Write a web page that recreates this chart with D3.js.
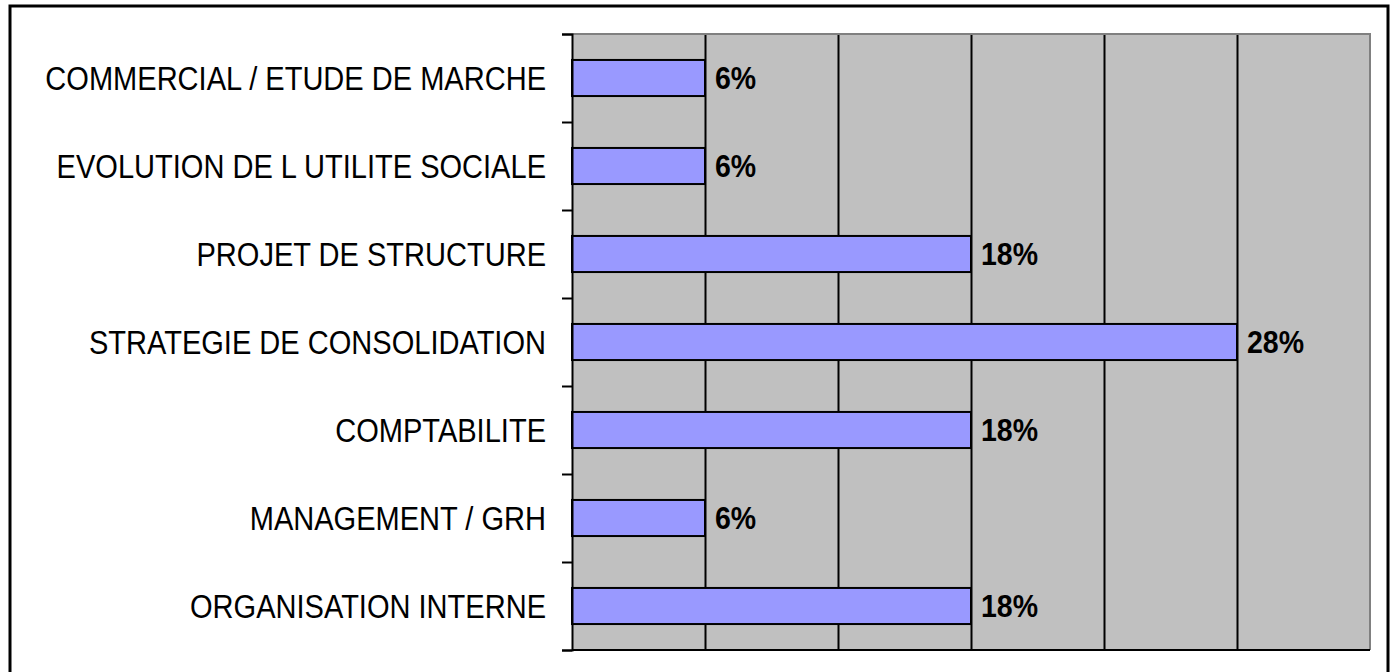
<!DOCTYPE html>
<html>
<head>
<meta charset="utf-8">
<script src="https://cdn.jsdelivr.net/npm/d3@7"></script>
<style>
  body { margin: 0; background: #fff; }
  svg { display: block; }
</style>
</head>
<body>
<svg id="chart"></svg>
<script>
// categories top to bottom
const categories = [
  "COMMERCIAL / ETUDE DE MARCHE",
  "EVOLUTION DE L UTILITE SOCIALE",
  "PROJET DE STRUCTURE",
  "STRATEGIE DE CONSOLIDATION",
  "COMPTABILITE",
  "MANAGEMENT / GRH",
  "ORGANISATION INTERNE"
];
// bar lengths (number of answers) and the printed percentage labels
const counts = [1, 1, 3, 5, 3, 1, 3];
const pctLabels = ["6%", "6%", "18%", "28%", "18%", "6%", "18%"];
const xTicks = [0, 1, 2, 3, 4, 5, 6];

const width = 1391;
const height = 672;
const plot = { left: 572, right: 1370, top: 34, bottom: 650 };

const svg = d3.select("#chart").attr("width", width).attr("height", height);

// outer frame
svg.append("rect")
  .attr("x", 10).attr("y", 6)
  .attr("width", 1378).attr("height", 670)
  .attr("fill", "none").attr("stroke", "#000").attr("stroke-width", 3);

const xScale = d3.scaleLinear().domain([0, 6]).range([plot.left, plot.right]);
const yScale = d3.scaleBand()
  .domain(categories)
  .range([plot.top, plot.bottom])
  .paddingInner(0.59)
  .paddingOuter(0.295);

// plot background
svg.append("rect")
  .attr("x", plot.left).attr("y", plot.top)
  .attr("width", plot.right - plot.left).attr("height", plot.bottom - plot.top)
  .attr("fill", "#c0c0c0");

// vertical gridlines
svg.append("g")
  .attr("transform", "translate(0," + plot.bottom + ")")
  .call(d3.axisBottom(xScale).tickValues(xTicks.slice(1, -1))
    .tickSize(-(plot.bottom - plot.top)).tickFormat(""))
  .call(g => g.select(".domain").remove())
  .call(g => g.selectAll("line").attr("stroke", "#000").attr("stroke-width", 2));

// gray top and right edges
svg.append("path")
  .attr("d", "M" + plot.left + "," + plot.top + "H" + plot.right + "V" + plot.bottom)
  .attr("fill", "none").attr("stroke", "#808080").attr("stroke-width", 2);

// bars
svg.selectAll("rect.bar")
  .data(counts)
  .enter()
  .append("rect")
  .attr("class", "bar")
  .attr("x", xScale(0))
  .attr("y", (d, i) => yScale(categories[i]))
  .attr("width", (d) => xScale(d) - xScale(0))
  .attr("height", yScale.bandwidth())
  .attr("fill", "#9999ff")
  .attr("stroke", "#000")
  .attr("stroke-width", 2);

// value labels
svg.selectAll("text.val")
  .data(counts)
  .enter()
  .append("text")
  .attr("class", "val")
  .attr("transform", (d, i) =>
    "translate(" + (xScale(d) + 10) + "," + (yScale(categories[i]) + yScale.bandwidth() / 2 + 11) + ") scale(0.92,1)")
  .attr("font-family", "Liberation Sans, Arial, sans-serif")
  .attr("font-weight", "bold")
  .attr("font-size", 31)
  .text((d, i) => pctLabels[i]);

// bottom axis line
svg.append("line")
  .attr("x1", plot.left).attr("x2", plot.right)
  .attr("y1", plot.bottom).attr("y2", plot.bottom)
  .attr("stroke", "#000").attr("stroke-width", 2);

// left axis with ticks between categories
const yEdges = d3.scaleLinear().domain([0, categories.length]).range([plot.top, plot.bottom]);
svg.append("g")
  .attr("transform", "translate(" + plot.left + ",0)")
  .call(d3.axisLeft(yEdges).ticks(categories.length).tickSize(10).tickSizeOuter(10).tickFormat(""))
  .call(g => g.selectAll("line,path").attr("stroke", "#000").attr("stroke-width", 2));

// category labels
svg.selectAll("text.cat")
  .data(categories)
  .enter()
  .append("text")
  .attr("class", "cat")
  .attr("transform", (d) =>
    "translate(546," + (yScale(d) + yScale.bandwidth() / 2 + 12) + ") scale(0.88,1)")
  .attr("text-anchor", "end")
  .attr("font-family", "Liberation Sans, Arial, sans-serif")
  .attr("font-size", 33)
  .attr("fill", "#000")
  .text((d) => d);
</script>
</body>
</html>
